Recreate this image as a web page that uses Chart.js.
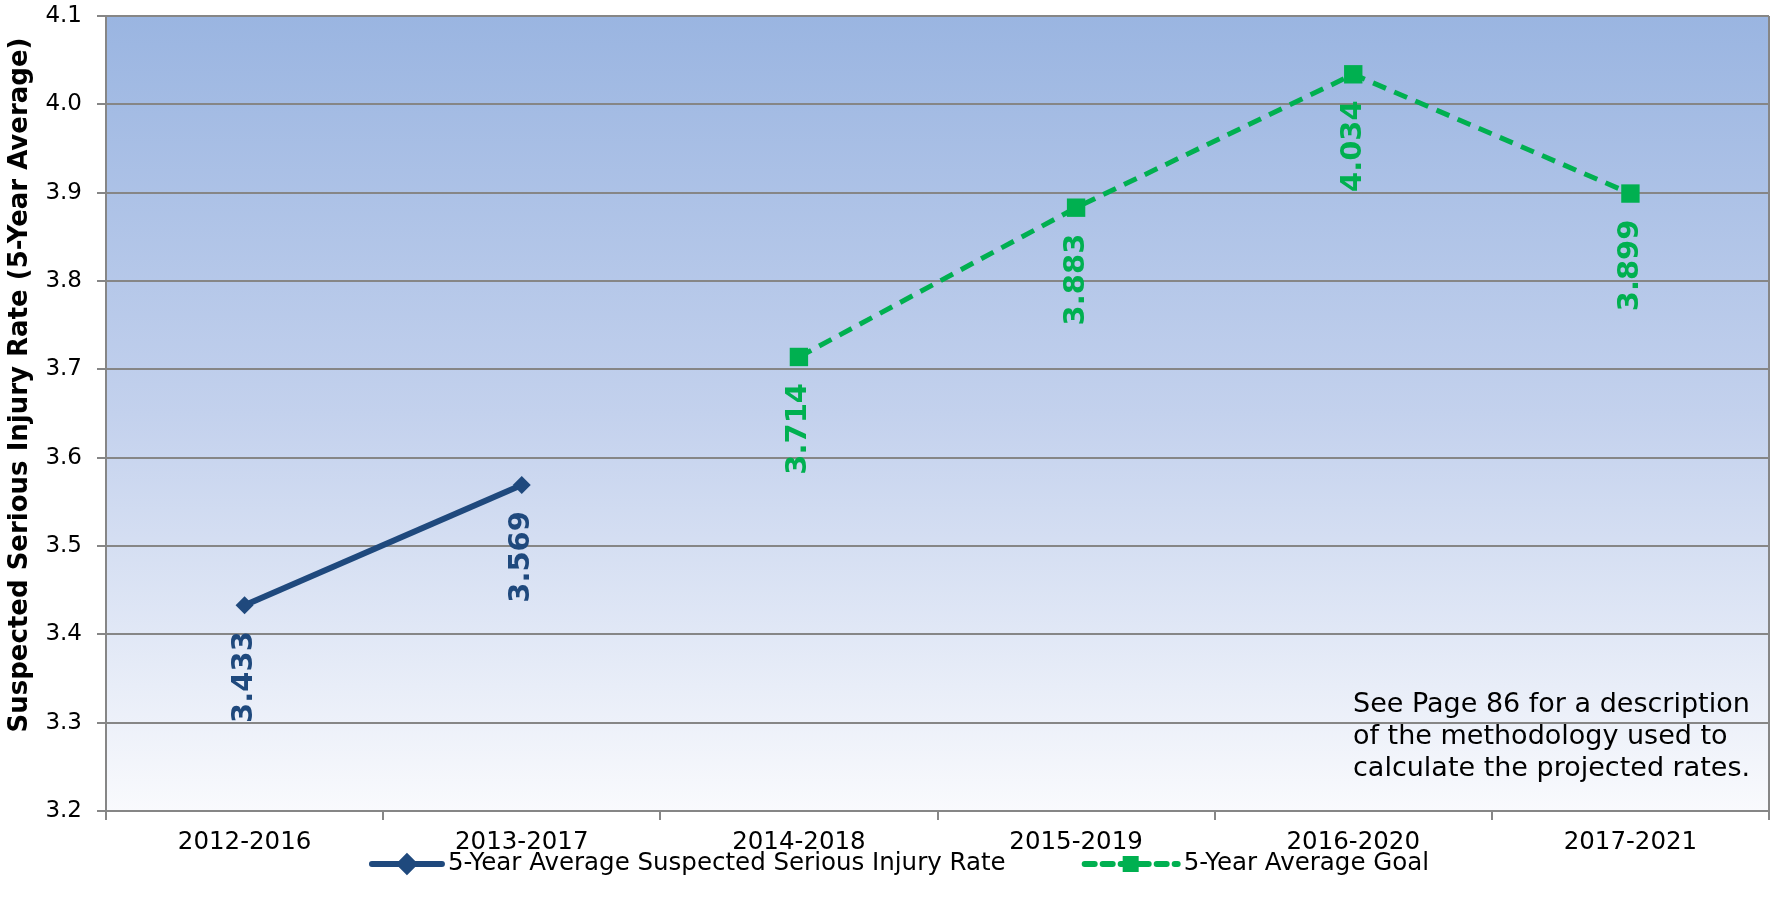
<!DOCTYPE html>
<html>
<head>
<meta charset="utf-8">
<script src="https://cdn.jsdelivr.net/npm/chart.js@4.4.1/dist/chart.umd.min.js"></script>
<style>
  html, body { margin: 0; padding: 0; background: #fff; }
  #wrap { width: 1775px; height: 914px; position: relative; }
</style>
</head>
<body>
<div id="wrap"><canvas id="chart" width="1775" height="914"></canvas></div>
<script>
// datos
const categories = ['2012-2016', '2013-2017', '2014-2018', '2015-2019', '2016-2020', '2017-2021'];
const injuryRate = [3.433, 3.569, null, null, null, null];
const goalRate = [null, null, 3.714, 3.883, 4.034, 3.899];
const yMin = 3.2;
const yMax = 4.1;
const yStep = 0.1;
const seriesNames = ['5-Year Average Suspected Serious Injury Rate', '5-Year Average Goal'];
const yTitle = 'Suspected Serious Injury Rate (5-Year Average)';
const noteLines = [
    'See Page 86 for a description',
    'of the methodology used to',
    'calculate the projected rates.'
];

const FONT = '"DejaVu Sans", Verdana, sans-serif';
const BLUE = '#1F497D';
const GREEN = '#00B050';
const GRID = '#868686';

// fondo degradado del área del gráfico
const bgPlugin = {
    id: 'bgGradient',
    beforeDraw(chart) {
        const { ctx, chartArea: a } = chart;
        const g = ctx.createLinearGradient(0, a.top, 0, a.bottom);
        g.addColorStop(0, '#9AB5E1');
        g.addColorStop(0.5, '#C3D1ED');
        g.addColorStop(1, '#F9FAFD');
        ctx.save();
        ctx.fillStyle = g;
        ctx.fillRect(a.left, a.top, a.right - a.left, a.bottom - a.top);
        ctx.restore();
    },
    afterDraw(chart) {
        const { ctx, chartArea: a } = chart;
        ctx.save();
        ctx.strokeStyle = GRID;
        ctx.lineWidth = 2;
        ctx.beginPath();
        ctx.moveTo(a.right, a.top);
        ctx.lineTo(a.right, a.bottom);
        ctx.stroke();
        // título del eje y
        ctx.translate(20, 385);
        ctx.rotate(-Math.PI / 2);
        ctx.font = 'bold 26px ' + FONT;
        ctx.fillStyle = '#000';
        ctx.textAlign = 'center';
        ctx.textBaseline = 'middle';
        ctx.fillText(yTitle, 0, 0);
        ctx.restore();
    }
};

// etiquetas de valores rotadas
const labelPlugin = {
    id: 'valueLabels',
    afterDatasetsDraw(chart) {
        const ctx = chart.ctx;
        chart.data.datasets.forEach((ds, i) => {
            const meta = chart.getDatasetMeta(i);
            meta.data.forEach((pt, j) => {
                const v = ds.data[j];
                if (v === null || v === undefined) return;
                ctx.save();
                ctx.translate(pt.x, pt.y + 26);
                ctx.rotate(-Math.PI / 2);
                ctx.font = 'bold 29px ' + FONT;
                ctx.fillStyle = ds.borderColor;
                ctx.textAlign = 'right';
                ctx.textBaseline = 'middle';
                ctx.fillText(v.toFixed(3), 0, 0);
                ctx.restore();
            });
        });
    }
};

// nota y leyenda
const notePlugin = {
    id: 'noteLegend',
    afterDraw(chart) {
        const ctx = chart.ctx;
        ctx.save();
        ctx.font = '27px ' + FONT;
        ctx.fillStyle = '#000';
        ctx.textAlign = 'left';
        ctx.textBaseline = 'middle';
        noteLines.forEach((t, i) => ctx.fillText(t, 1353, 705 + i * 32));

        // leyenda
        ctx.font = '24.5px ' + FONT;
        const y = 864;
        const w1 = ctx.measureText(seriesNames[0]).width;
        const w2 = ctx.measureText(seriesNames[1]).width;
        const total = 70 + 6 + w1 + 79 + 93 + 6 + w2;
        let x = (chart.width - total) / 2 + 13;
        // serie 1
        ctx.strokeStyle = BLUE;
        ctx.lineWidth = 6;
        ctx.lineCap = 'round';
        ctx.beginPath();
        ctx.moveTo(x, y);
        ctx.lineTo(x + 70, y);
        ctx.stroke();
        Chart.helpers.drawPoint(ctx, { pointStyle: 'rectRot', radius: 7, borderWidth: 1 }, x + 35, y);
        ctx.fillStyle = BLUE;
        ctx.fill();
        ctx.fillStyle = '#000';
        ctx.fillText(seriesNames[0], x + 76, y);
        x += 76 + w1 + 79;
        // serie 2
        ctx.strokeStyle = GREEN;
        ctx.setLineDash([10, 8]);
        ctx.beginPath();
        ctx.moveTo(x, y);
        ctx.lineTo(x + 93, y);
        ctx.stroke();
        ctx.setLineDash([]);
        ctx.fillStyle = GREEN;
        ctx.fillRect(x + 46 - 8, y - 8, 16, 16);
        ctx.fillStyle = '#000';
        ctx.fillText(seriesNames[1], x + 99, y);
        ctx.restore();
    }
};

new Chart(document.getElementById('chart'), {
    type: 'line',
    data: {
        labels: categories,
        datasets: [
            {
                label: seriesNames[0],
                data: injuryRate,
                borderColor: BLUE,
                backgroundColor: BLUE,
                borderWidth: 6,
                pointStyle: 'rectRot',
                pointRadius: 9,
                pointBorderWidth: 0,
                spanGaps: false,
                tension: 0
            },
            {
                label: seriesNames[1],
                data: goalRate,
                borderColor: GREEN,
                backgroundColor: GREEN,
                borderWidth: 5,
                borderDash: [14, 9],
                pointStyle: 'rect',
                pointRadius: 13,
                pointBorderWidth: 0,
                spanGaps: false,
                tension: 0
            }
        ]
    },
    options: {
        responsive: false,
        animation: false,
        layout: { autoPadding: false, padding: { top: 16, right: 6, left: 0, bottom: 0 } },
        plugins: {
            legend: { display: false },
            tooltip: { enabled: false }
        },
        scales: {
            x: {
                offset: true,
                grid: { display: true, drawOnChartArea: false, drawTicks: true, tickLength: 9, offset: true, color: GRID, lineWidth: 2 },
                border: { color: GRID, width: 2 },
                ticks: { color: '#000', font: { family: FONT, size: 24.5 }, padding: 8 },
                afterFit(s) { s.height = 103; s.paddingLeft = 0; s.paddingRight = 0; }
            },
            y: {
                min: yMin,
                max: yMax,
                grid: { color: GRID, lineWidth: 2, tickLength: 9 },
                border: { color: GRID, width: 2 },
                ticks: {
                    stepSize: yStep,
                    color: '#000',
                    padding: 15,
                    font: { family: FONT, size: 23 },
                    callback: v => v.toFixed(1)
                },
                title: { display: false },
                afterFit(s) { s.width = 106; s.paddingTop = 0; s.paddingBottom = 0; }
            }
        }
    },
    plugins: [bgPlugin, labelPlugin, notePlugin]
});
</script>
</body>
</html>
